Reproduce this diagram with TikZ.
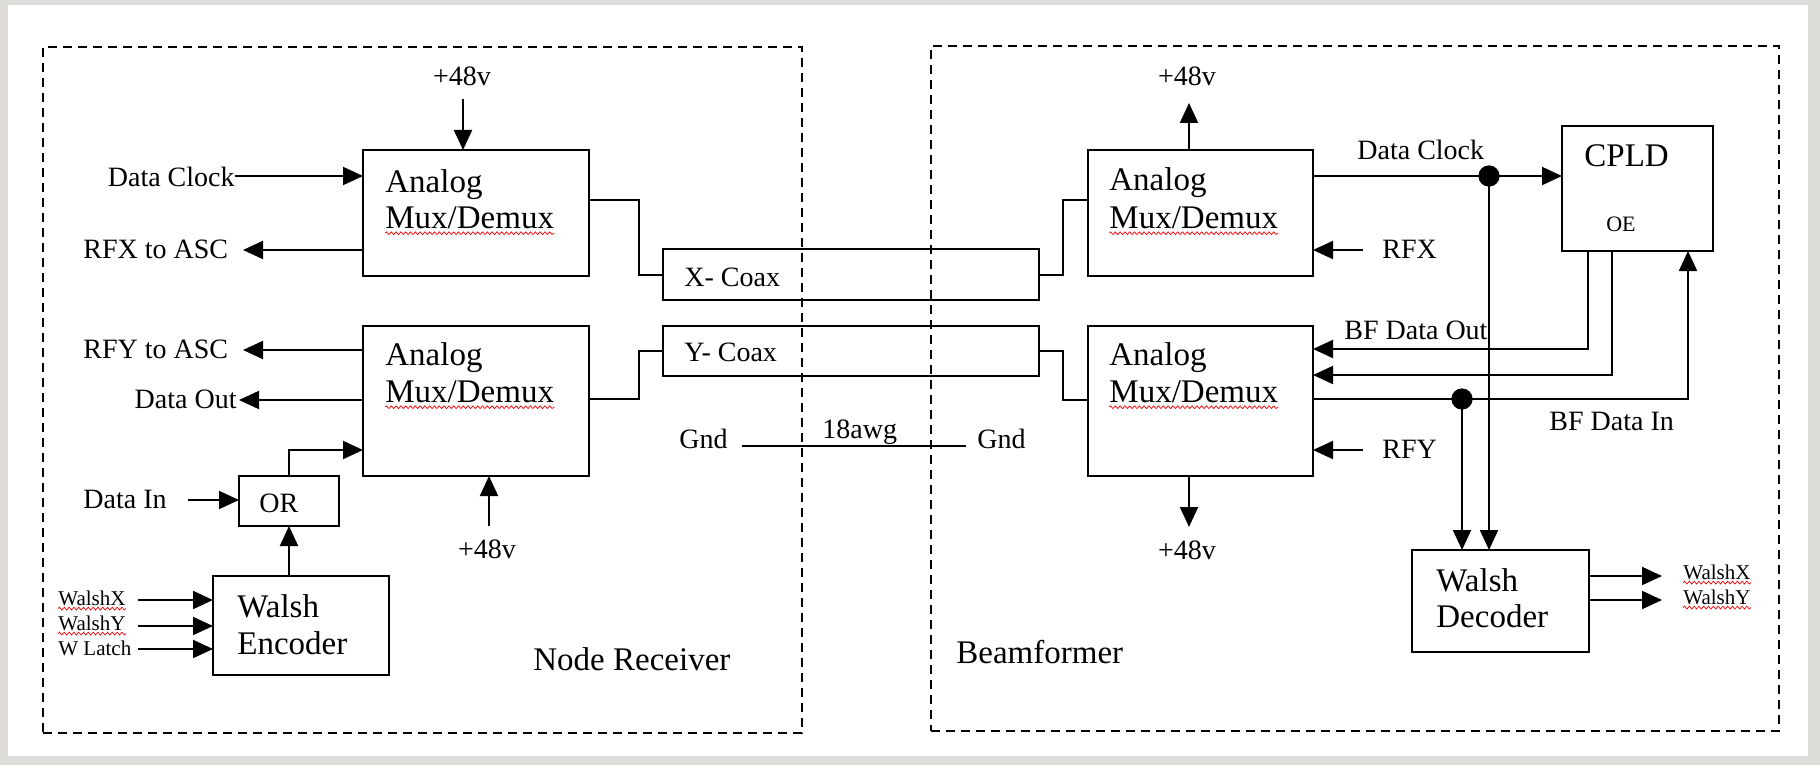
\documentclass[tikz,border=0pt]{standalone}
\usepackage{fontspec}
\setmainfont{Liberation Serif}
\usetikzlibrary{arrows.meta,decorations.pathmorphing}
\definecolor{bord}{RGB}{221,220,216}
\newcommand\fbig{\fontsize{16.5}{18}\selectfont}
\newcommand\fsmall{\fontsize{14}{16}\selectfont}
\newcommand\ftiny{\fontsize{10.5}{12}\selectfont}
\newcommand\foe{\fontsize{11}{12}\selectfont}
\begin{document}
\begin{tikzpicture}[x=0.5pt,y=-0.5pt,
 blk/.style={draw, line width=1pt, inner sep=0pt, outer sep=0pt, anchor=north west},
 dframe/.style={draw, dash pattern=on 4.5pt off 3pt, line width=0.8pt, inner sep=0pt, outer sep=0pt, anchor=north west},
 tbig/.style={font=\fbig, inner sep=0pt, anchor=base west},
 tsm/.style={font=\fsmall, inner sep=0pt, anchor=base west},
 ttiny/.style={font=\ftiny, inner sep=0pt, anchor=base west},
 wire/.style={line width=1pt},
 warr/.style={line width=1pt, -{Triangle[length=10pt,width=9pt]}},
 squig/.style={red, line width=0.35pt, decorate, decoration={snake, amplitude=0.7pt, segment length=2.4pt}},
 jdot/.style={circle, fill=black, inner sep=0pt, minimum size=10.5pt}
]
\useasboundingbox (0,0) rectangle (1820,765);
\fill[bord] (0,0) rectangle (1820,765);
\fill[white] (8,5) rectangle (1808,756);

% frames
\node[dframe, minimum width=379.5pt, minimum height=343pt] (nr) at (43,47) {};
\node[dframe, minimum width=424pt, minimum height=342.5pt] (bf) at (931,46) {};

% boxes
\node[blk, minimum width=113pt, minimum height=63pt] (mL1) at (363,150) {};
\node[blk, minimum width=113pt, minimum height=75pt] (mL2) at (363,326) {};
\node[blk, minimum width=188pt, minimum height=25.5pt] (xco) at (663,249) {};
\node[blk, minimum width=188pt, minimum height=25pt] (yco) at (663,326) {};
\node[blk, minimum width=112.5pt, minimum height=63pt] (mR1) at (1088,150) {};
\node[blk, minimum width=112.5pt, minimum height=75pt] (mR2) at (1088,326) {};
\node[blk, minimum width=50pt, minimum height=25pt] (orb) at (239,476) {};
\node[blk, minimum width=88pt, minimum height=49.5pt] (wenc) at (213,576) {};
\node[blk, minimum width=75.5pt, minimum height=62.5pt] (cpld) at (1562,126) {};
\node[blk, minimum width=88.5pt, minimum height=51pt] (wdec) at (1412,550) {};

% box texts
\node[tbig] (aL1) at (385,192) {Analog};
\node[tbig] (uL1) at (385,228) {Mux/Demux};
\node[tbig] (aL2) at (385,365) {Analog};
\node[tbig] (uL2) at (385,402) {Mux/Demux};
\node[tbig] (aR1) at (1109,191) {Analog};
\node[tbig] (uR1) at (1109,228) {Mux/Demux};
\node[tbig] (aR2) at (1109,365) {Analog};
\node[tbig] (uR2) at (1109,402) {Mux/Demux};
\node[tsm] (tX) at (684,286) {X- Coax};
\node[tsm] (tY) at (684,361) {Y- Coax};
\node[tsm] (tOR) at (259,512) {OR};
\node[tbig] (we1) at (237,617) {Walsh};
\node[tbig] (we2) at (237,654) {Encoder};
\node[tbig] (wd1) at (1436,591) {Walsh};
\node[tbig] (wd2) at (1436,627) {Decoder};
\node[tbig] (tC) at (1584,166) {CPLD};
\node[font=\foe, inner sep=0pt, anchor=base] (tOE) at (1621,231) {OE};
\node[tbig] (tNR) at (533,670) {Node Receiver};
\node[tbig] (tBF) at (956,663) {Beamformer};

% labels
\node[tsm, anchor=base] (v1) at (462,86) {+48v};
\node[tsm, anchor=base] (v2) at (487,558) {+48v};
\node[tsm, anchor=base] (v3) at (1187,86) {+48v};
\node[tsm, anchor=base] (v4) at (1187,559) {+48v};
\node[tsm, anchor=base east] (lDC) at (235,186) {Data Clock};
\node[tsm] (lRX) at (83,258) {RFX to ASC};
\node[tsm] (lRY) at (83,358) {RFY to ASC};
\node[tsm, anchor=base east] (lDO) at (237,408) {Data Out};
\node[tsm] (lDI) at (83,508) {Data In};
\node[ttiny] (lWX) at (58,605) {WalshX};
\node[ttiny] (lWY) at (58,630) {WalshY};
\node[ttiny] (lWL) at (58,655) {W Latch};
\node[tsm] (g1) at (679,448) {Gnd};
\node[tsm] (g2) at (977,448) {Gnd};
\node[tsm] (awg) at (822,438) {18awg};
\node[tsm] (rDC) at (1357,160) {Data Clock};
\node[tsm] (rRX) at (1382,258) {RFX};
\node[tsm] (rRY) at (1382,458) {RFY};
\node[tsm] (rBO) at (1344,339) {BF Data Out};
\node[tsm] (rBI) at (1549,430) {BF Data In};
\node[ttiny] (rWX) at (1683,579) {WalshX};
\node[ttiny] (rWY) at (1683,604) {WalshY};

% spelling squiggles
\foreach \n in {uL1,uL2,uR1,uR2}
  \draw[squig] ([yshift=-2.6pt]\n.base west) -- ([yshift=-2.6pt]\n.base east);
\foreach \n in {lWX,lWY,rWX,rWY}
  \draw[squig] ([yshift=-1.8pt]\n.base west) -- ([yshift=-1.8pt]\n.base east);

% left connectors
\coordinate (c48a) at (463,99);
\draw[warr] (c48a) -- (c48a |- mL1.north);
\coordinate (cDC) at (235,176);
\draw[warr] (cDC) -- (cDC -| mL1.west);
\coordinate (cRX) at (243,250);
\draw[warr] (cRX -| mL1.west) -- (cRX);
\coordinate (cRY) at (243,350);
\draw[warr] (cRY -| mL2.west) -- (cRY);
\coordinate (cDO) at (239,400);
\draw[warr] (cDO -| mL2.west) -- (cDO);
\coordinate (cOR) at (289,450);
\draw[warr] (cOR |- orb.north) -- (cOR) -- (cOR -| mL2.west);
\coordinate (c48b) at (489,526);
\draw[warr] (c48b) -- (c48b |- mL2.south);
\coordinate (cDI) at (188,500);
\draw[warr] (cDI) -- (cDI -| orb.west);
\draw[warr] (orb.south |- wenc.north) -- (orb.south);
\coordinate (cWX) at (138,600);
\draw[warr] (cWX) -- (cWX -| wenc.west);
\coordinate (cWY) at (138,626);
\draw[warr] (cWY) -- (cWY -| wenc.west);
\coordinate (cWL) at (138,649);
\draw[warr] (cWL) -- (cWL -| wenc.west);

% coax connectors
\coordinate (kx1) at (639,200);
\draw[wire] (kx1 -| mL1.east) -- (kx1) |- (xco.west);
\coordinate (ky1) at (639,399);
\draw[wire] (ky1 -| mL2.east) -- (ky1) |- (yco.west);
\coordinate (kx2) at (1063,200);
\draw[wire] (xco.east) -| (kx2) -- (kx2 -| mR1.west);
\coordinate (ky2) at (1063,400);
\draw[wire] (yco.east) -| (ky2) -- (ky2 -| mR2.west);

% ground
\coordinate (gA) at (742,446);
\coordinate (gB) at (966,446);
\draw[wire] (gA) -- (gB);

% right connectors
\coordinate (c48c) at (1189,103);
\draw[warr] (c48c |- mR1.north) -- (c48c);
\coordinate (c48d) at (1189,527);
\draw[warr] (c48d |- mR2.south) -- (c48d);
\coordinate (cRRX) at (1363,250);
\draw[warr] (cRRX) -- (cRRX -| mR1.east);
\coordinate (cRRY) at (1363,450);
\draw[warr] (cRRY) -- (cRRY -| mR2.east);

\node[jdot] (d1) at (1489,176) {};
\node[jdot] (d2) at (1462,399) {};
\draw[wire] (d1 -| mR1.east) -- (d1.center);
\draw[warr] (d1.center) -- (d1 -| cpld.west);
\draw[warr] (d1.center) -- (d1 |- wdec.north);
\coordinate (bo) at (1588,349);
\draw[warr] (bo |- cpld.south) -- (bo) -- (bo -| mR2.east);
\coordinate (oe) at (1612,375);
\draw[warr] (oe |- cpld.south) -- (oe) -- (oe -| mR2.east);
\coordinate (bi) at (1688,399);
\draw[warr] (bi -| mR2.east) -- (bi) -- (bi |- cpld.south);
\draw[warr] (d2.center) -- (d2 |- wdec.north);
\coordinate (owx) at (1662,576);
\draw[warr] (owx -| wdec.east) -- (owx);
\coordinate (owy) at (1662,600);
\draw[warr] (owy -| wdec.east) -- (owy);

\node[jdot] at (d1) {};
\node[jdot] at (d2) {};
\end{tikzpicture}
\end{document}
